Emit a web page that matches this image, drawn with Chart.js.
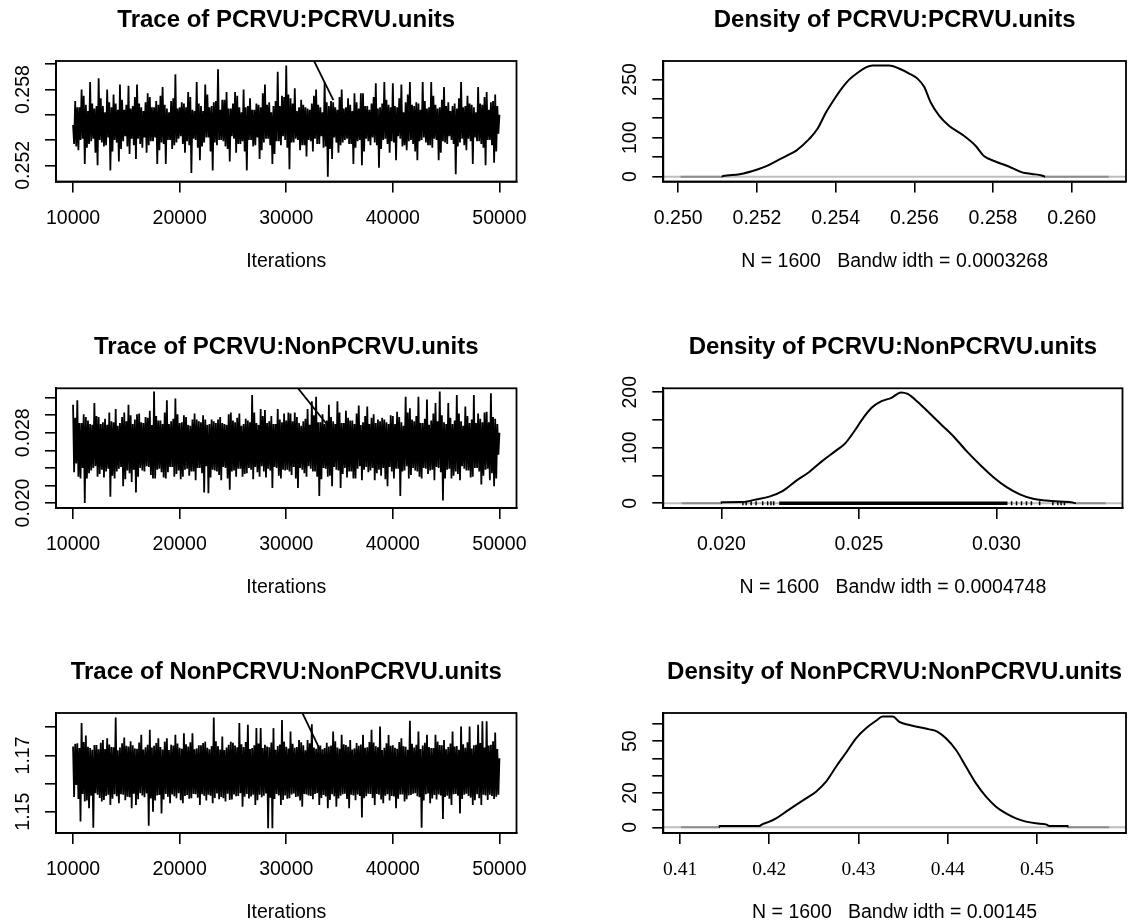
<!DOCTYPE html>
<html>
<head>
<meta charset="utf-8">
<title>MCMC trace and density plots</title>
<script src="https://cdn.jsdelivr.net/npm/chart.js@4.4.1/dist/chart.umd.min.js"></script>
<style>
  html, body { margin: 0; padding: 0; background: #ffffff; }
  #page { position: relative; width: 1128px; height: 922px; overflow: hidden; background: #ffffff; }
</style>
</head>
<body>
<div id="page"></div>
<script>
// ---- Sampled chains, 10000..50000 ----
// Each chain is stored as two lists of turning points: the extremes every 200
// iterations (high at even positions, low at odd) and the opposite turning
// points that fall between them, 100 iterations apart.
const TRACE_START = 10000;
const TRACE_STEP = 100;

const peaksPcPc = [
  0.2552, 0.2535, 0.2566, 0.2540, 0.2580, 0.2521, 0.2568, 0.2537, 0.2586, 0.2541,
  0.2565, 0.2520, 0.2589, 0.2538, 0.2567, 0.2536, 0.2580, 0.2516, 0.2566, 0.2540,
  0.2569, 0.2523, 0.2584, 0.2539, 0.2564, 0.2535, 0.2583, 0.2541, 0.2567, 0.2525,
  0.2584, 0.2537, 0.2566, 0.2542, 0.2570, 0.2536, 0.2574, 0.2539, 0.2566, 0.2521,
  0.2568, 0.2538, 0.2582, 0.2521, 0.2565, 0.2540, 0.2571, 0.2536, 0.2592, 0.2541,
  0.2566, 0.2537, 0.2569, 0.2539, 0.2578, 0.2514, 0.2564, 0.2540, 0.2586, 0.2524,
  0.2567, 0.2538, 0.2584, 0.2542, 0.2566, 0.2516, 0.2570, 0.2536, 0.2596, 0.2540,
  0.2572, 0.2535, 0.2578, 0.2523, 0.2565, 0.2541, 0.2578, 0.2537, 0.2566, 0.2539,
  0.2580, 0.2516, 0.2567, 0.2540, 0.2564, 0.2536, 0.2569, 0.2525, 0.2566, 0.2538,
  0.2584, 0.2541, 0.2570, 0.2521, 0.2567, 0.2539, 0.2594, 0.2536, 0.2575, 0.2540,
  0.2599, 0.2517, 0.2573, 0.2538, 0.2581, 0.2540, 0.2566, 0.2536, 0.2568, 0.2527,
  0.2565, 0.2539, 0.2569, 0.2541, 0.2580, 0.2537, 0.2566, 0.2534, 0.2586, 0.2511,
  0.2567, 0.2525, 0.2570, 0.2538, 0.2564, 0.2536, 0.2580, 0.2540, 0.2566, 0.2537,
  0.2568, 0.2521, 0.2577, 0.2539, 0.2565, 0.2520, 0.2577, 0.2541, 0.2567, 0.2536,
  0.2569, 0.2538, 0.2585, 0.2518, 0.2566, 0.2540, 0.2586, 0.2537, 0.2568, 0.2539,
  0.2585, 0.2524, 0.2566, 0.2541, 0.2584, 0.2536, 0.2570, 0.2539, 0.2586, 0.2537,
  0.2567, 0.2524, 0.2569, 0.2540, 0.2586, 0.2538, 0.2565, 0.2536, 0.2586, 0.2541,
  0.2568, 0.2524, 0.2566, 0.2539, 0.2582, 0.2537, 0.2570, 0.2540, 0.2567, 0.2513,
  0.2565, 0.2538, 0.2586, 0.2536, 0.2567, 0.2541, 0.2569, 0.2521, 0.2566, 0.2539,
  0.2582, 0.2537, 0.2568, 0.2520, 0.2578, 0.2540, 0.2570, 0.2522, 0.2576, 0.2545,
  0.2560
];
const bandPcPc = [
  0.2537, 0.2571, 0.2532, 0.2566, 0.2541, 0.2575, 0.2534, 0.2563, 0.2539, 0.2569,
  0.2530, 0.2567, 0.2540, 0.2573, 0.2535, 0.2562, 0.2542, 0.2570, 0.2531, 0.2576,
  0.2538, 0.2564, 0.2533, 0.2572, 0.2543, 0.2568, 0.2529, 0.2565, 0.2536, 0.2574,
  0.2541, 0.2569, 0.2534, 0.2563, 0.2530, 0.2577, 0.2539, 0.2566, 0.2542, 0.2571,
  0.2532, 0.2575, 0.2537, 0.2568, 0.2540, 0.2562, 0.2533, 0.2573, 0.2538, 0.2565,
  0.2543, 0.2570, 0.2530, 0.2566, 0.2536, 0.2574, 0.2541, 0.2563, 0.2534, 0.2569,
  0.2535, 0.2563, 0.2542, 0.2576, 0.2531, 0.2567, 0.2538, 0.2571, 0.2540, 0.2564,
  0.2539, 0.2572, 0.2533, 0.2565, 0.2543, 0.2569, 0.2530, 0.2575, 0.2537, 0.2562,
  0.2531, 0.2566, 0.2540, 0.2573, 0.2535, 0.2564, 0.2542, 0.2568, 0.2532, 0.2577,
  0.2541, 0.2568, 0.2536, 0.2562, 0.2529, 0.2571, 0.2539, 0.2567, 0.2543, 0.2574,
  0.2534, 0.2576, 0.2538, 0.2569, 0.2541, 0.2563, 0.2532, 0.2572, 0.2536, 0.2566,
  0.2540, 0.2564, 0.2531, 0.2575, 0.2537, 0.2568, 0.2543, 0.2562, 0.2535, 0.2570,
  0.2533, 0.2571, 0.2542, 0.2566, 0.2530, 0.2574, 0.2538, 0.2565, 0.2541, 0.2573,
  0.2537, 0.2563, 0.2534, 0.2570, 0.2540, 0.2577, 0.2531, 0.2567, 0.2539, 0.2564,
  0.2542, 0.2574, 0.2536, 0.2565, 0.2533, 0.2569, 0.2541, 0.2572, 0.2530, 0.2566,
  0.2538, 0.2567, 0.2543, 0.2573, 0.2535, 0.2562, 0.2532, 0.2576, 0.2540, 0.2568,
  0.2531, 0.2570, 0.2539, 0.2564, 0.2542, 0.2571, 0.2536, 0.2566, 0.2534, 0.2575,
  0.2540, 0.2565, 0.2530, 0.2572, 0.2538, 0.2567, 0.2543, 0.2563, 0.2537, 0.2569,
  0.2535, 0.2573, 0.2541, 0.2566, 0.2532, 0.2575, 0.2539, 0.2568, 0.2542, 0.2562,
  0.2539, 0.2569, 0.2534, 0.2574, 0.2540, 0.2564, 0.2536, 0.2571, 0.2531, 0.2567
];

const peaksPcNon = [
  0.0312, 0.0245, 0.0317, 0.0228, 0.0291, 0.0200, 0.0298, 0.0234, 0.0290, 0.0240,
  0.0314, 0.0230, 0.0298, 0.0238, 0.0292, 0.0236, 0.0289, 0.0207, 0.0293, 0.0228,
  0.0307, 0.0239, 0.0291, 0.0219, 0.0303, 0.0237, 0.0312, 0.0224, 0.0290, 0.0212,
  0.0301, 0.0240, 0.0292, 0.0236, 0.0298, 0.0241, 0.0305, 0.0228, 0.0327, 0.0238,
  0.0294, 0.0235, 0.0290, 0.0228, 0.0317, 0.0241, 0.0293, 0.0230, 0.0319, 0.0237,
  0.0291, 0.0230, 0.0300, 0.0239, 0.0289, 0.0236, 0.0295, 0.0226, 0.0295, 0.0240,
  0.0292, 0.0212, 0.0295, 0.0211, 0.0290, 0.0238, 0.0293, 0.0236, 0.0295, 0.0226,
  0.0291, 0.0240, 0.0289, 0.0215, 0.0303, 0.0237, 0.0292, 0.0239, 0.0302, 0.0230,
  0.0290, 0.0234, 0.0294, 0.0238, 0.0323, 0.0241, 0.0291, 0.0230, 0.0307, 0.0236,
  0.0306, 0.0239, 0.0293, 0.0217, 0.0290, 0.0240, 0.0307, 0.0228, 0.0292, 0.0237,
  0.0294, 0.0236, 0.0302, 0.0241, 0.0303, 0.0217, 0.0291, 0.0238, 0.0293, 0.0230,
  0.0307, 0.0239, 0.0316, 0.0236, 0.0321, 0.0208, 0.0292, 0.0240, 0.0290, 0.0230,
  0.0312, 0.0219, 0.0293, 0.0238, 0.0316, 0.0217, 0.0291, 0.0240, 0.0305, 0.0236,
  0.0294, 0.0228, 0.0290, 0.0239, 0.0311, 0.0226, 0.0292, 0.0241, 0.0310, 0.0237,
  0.0297, 0.0226, 0.0291, 0.0238, 0.0293, 0.0240, 0.0295, 0.0219, 0.0290, 0.0236,
  0.0299, 0.0239, 0.0304, 0.0208, 0.0292, 0.0237, 0.0321, 0.0228, 0.0308, 0.0240,
  0.0293, 0.0236, 0.0321, 0.0228, 0.0291, 0.0239, 0.0318, 0.0237, 0.0294, 0.0226,
  0.0314, 0.0240, 0.0327, 0.0203, 0.0292, 0.0238, 0.0314, 0.0228, 0.0290, 0.0236,
  0.0323, 0.0226, 0.0293, 0.0239, 0.0310, 0.0237, 0.0291, 0.0230, 0.0323, 0.0240,
  0.0302, 0.0221, 0.0292, 0.0238, 0.0304, 0.0226, 0.0325, 0.0219, 0.0296, 0.0255,
  0.0280
];
const bandPcNon = [
  0.0235, 0.0297, 0.0230, 0.0291, 0.0240, 0.0301, 0.0228, 0.0294, 0.0237, 0.0289,
  0.0242, 0.0299, 0.0233, 0.0290, 0.0229, 0.0296, 0.0239, 0.0303, 0.0231, 0.0292,
  0.0236, 0.0288, 0.0241, 0.0298, 0.0227, 0.0293, 0.0234, 0.0300, 0.0238, 0.0295,
  0.0230, 0.0302, 0.0237, 0.0291, 0.0242, 0.0297, 0.0232, 0.0289, 0.0228, 0.0299,
  0.0239, 0.0294, 0.0229, 0.0303, 0.0235, 0.0290, 0.0241, 0.0296, 0.0233, 0.0301,
  0.0227, 0.0292, 0.0238, 0.0298, 0.0231, 0.0288, 0.0236, 0.0302, 0.0240, 0.0293,
  0.0234, 0.0300, 0.0242, 0.0289, 0.0229, 0.0295, 0.0237, 0.0291, 0.0232, 0.0298,
  0.0241, 0.0290, 0.0228, 0.0301, 0.0236, 0.0294, 0.0230, 0.0297, 0.0239, 0.0288,
  0.0233, 0.0296, 0.0240, 0.0292, 0.0227, 0.0303, 0.0235, 0.0289, 0.0242, 0.0299,
  0.0229, 0.0291, 0.0237, 0.0299, 0.0241, 0.0290, 0.0231, 0.0295, 0.0238, 0.0302,
  0.0238, 0.0303, 0.0232, 0.0293, 0.0228, 0.0298, 0.0240, 0.0288, 0.0234, 0.0296,
  0.0242, 0.0289, 0.0236, 0.0300, 0.0230, 0.0292, 0.0227, 0.0301, 0.0239, 0.0294,
  0.0231, 0.0298, 0.0241, 0.0290, 0.0237, 0.0303, 0.0233, 0.0291, 0.0229, 0.0297,
  0.0236, 0.0294, 0.0228, 0.0302, 0.0242, 0.0289, 0.0238, 0.0299, 0.0235, 0.0290,
  0.0240, 0.0301, 0.0234, 0.0295, 0.0231, 0.0297, 0.0227, 0.0292, 0.0241, 0.0300,
  0.0228, 0.0290, 0.0239, 0.0298, 0.0236, 0.0288, 0.0242, 0.0303, 0.0232, 0.0295,
  0.0237, 0.0299, 0.0230, 0.0291, 0.0240, 0.0296, 0.0233, 0.0289, 0.0238, 0.0302,
  0.0241, 0.0293, 0.0235, 0.0300, 0.0228, 0.0290, 0.0239, 0.0297, 0.0231, 0.0294,
  0.0233, 0.0302, 0.0242, 0.0288, 0.0237, 0.0299, 0.0229, 0.0295, 0.0240, 0.0291,
  0.0236, 0.0296, 0.0231, 0.0303, 0.0239, 0.0292, 0.0234, 0.0298, 0.0228, 0.0290
];

const peaksNonNon = [
  1.1732, 1.1595, 1.1743, 1.1465, 1.1815, 1.1536, 1.1771, 1.1512, 1.1726, 1.1443,
  1.1737, 1.1560, 1.1722, 1.1536, 1.1755, 1.1556, 1.1761, 1.1524, 1.1730, 1.1562,
  1.1835, 1.1530, 1.1728, 1.1560, 1.1764, 1.1553, 1.1732, 1.1512, 1.1736, 1.1524,
  1.1724, 1.1566, 1.1773, 1.1551, 1.1729, 1.1450, 1.1791, 1.1500, 1.1734, 1.1558,
  1.1761, 1.1494, 1.1721, 1.1563, 1.1761, 1.1530, 1.1738, 1.1555, 1.1773, 1.1566,
  1.1727, 1.1530, 1.1779, 1.1559, 1.1732, 1.1548, 1.1779, 1.1562, 1.1725, 1.1524,
  1.1736, 1.1557, 1.1749, 1.1560, 1.1722, 1.1530, 1.1835, 1.1565, 1.1733, 1.1552,
  1.1767, 1.1536, 1.1728, 1.1542, 1.1749, 1.1561, 1.1735, 1.1556, 1.1815, 1.1518,
  1.1730, 1.1563, 1.1809, 1.1554, 1.1726, 1.1524, 1.1797, 1.1560, 1.1797, 1.1557,
  1.1738, 1.1441, 1.1729, 1.1441, 1.1797, 1.1563, 1.1733, 1.1524, 1.1826, 1.1558,
  1.1731, 1.1548, 1.1785, 1.1565, 1.1727, 1.1554, 1.1755, 1.1518, 1.1736, 1.1561,
  1.1755, 1.1556, 1.1811, 1.1563, 1.1724, 1.1524, 1.1735, 1.1559, 1.1726, 1.1512,
  1.1732, 1.1562, 1.1785, 1.1518, 1.1728, 1.1557, 1.1773, 1.1564, 1.1737, 1.1512,
  1.1755, 1.1558, 1.1725, 1.1561, 1.1734, 1.1479, 1.1773, 1.1555, 1.1729, 1.1563,
  1.1791, 1.1524, 1.1733, 1.1560, 1.1803, 1.1530, 1.1727, 1.1562, 1.1773, 1.1556,
  1.1736, 1.1512, 1.1724, 1.1561, 1.1761, 1.1536, 1.1731, 1.1558, 1.1823, 1.1564,
  1.1728, 1.1555, 1.1785, 1.1443, 1.1735, 1.1562, 1.1773, 1.1530, 1.1726, 1.1559,
  1.1773, 1.1561, 1.1737, 1.1474, 1.1755, 1.1557, 1.1730, 1.1524, 1.1785, 1.1563,
  1.1733, 1.1494, 1.1803, 1.1560, 1.1727, 1.1556, 1.1803, 1.1524, 1.1736, 1.1562,
  1.1809, 1.1524, 1.1821, 1.1558, 1.1821, 1.1560, 1.1738, 1.1545, 1.1781, 1.1560,
  1.1690
];
const bandNonNon = [
  1.1552, 1.1741, 1.1545, 1.1726, 1.1563, 1.1748, 1.1540, 1.1731, 1.1557, 1.1720,
  1.1566, 1.1737, 1.1549, 1.1745, 1.1542, 1.1723, 1.1560, 1.1739, 1.1546, 1.1729,
  1.1555, 1.1718, 1.1562, 1.1743, 1.1541, 1.1734, 1.1551, 1.1750, 1.1564, 1.1725,
  1.1544, 1.1746, 1.1558, 1.1721, 1.1565, 1.1738, 1.1547, 1.1728, 1.1540, 1.1744,
  1.1559, 1.1730, 1.1543, 1.1749, 1.1553, 1.1719, 1.1561, 1.1735, 1.1548, 1.1742,
  1.1541, 1.1724, 1.1556, 1.1740, 1.1546, 1.1747, 1.1563, 1.1722, 1.1550, 1.1736,
  1.1562, 1.1744, 1.1540, 1.1727, 1.1557, 1.1733, 1.1549, 1.1750, 1.1544, 1.1721,
  1.1548, 1.1719, 1.1564, 1.1738, 1.1543, 1.1745, 1.1555, 1.1729, 1.1566, 1.1740,
  1.1553, 1.1748, 1.1547, 1.1723, 1.1560, 1.1736, 1.1541, 1.1742, 1.1551, 1.1726,
  1.1565, 1.1732, 1.1550, 1.1746, 1.1545, 1.1720, 1.1558, 1.1739, 1.1542, 1.1749,
  1.1546, 1.1725, 1.1561, 1.1741, 1.1552, 1.1730, 1.1540, 1.1747, 1.1563, 1.1718,
  1.1558, 1.1743, 1.1544, 1.1728, 1.1566, 1.1737, 1.1549, 1.1722, 1.1554, 1.1745,
  1.1542, 1.1735, 1.1555, 1.1750, 1.1547, 1.1724, 1.1562, 1.1740, 1.1545, 1.1731,
  1.1560, 1.1721, 1.1541, 1.1744, 1.1556, 1.1739, 1.1548, 1.1727, 1.1564, 1.1748,
  1.1549, 1.1746, 1.1563, 1.1729, 1.1543, 1.1719, 1.1557, 1.1743, 1.1540, 1.1734,
  1.1554, 1.1727, 1.1546, 1.1748, 1.1561, 1.1733, 1.1544, 1.1720, 1.1559, 1.1741,
  1.1566, 1.1738, 1.1551, 1.1723, 1.1540, 1.1745, 1.1565, 1.1730, 1.1547, 1.1726,
  1.1543, 1.1749, 1.1558, 1.1736, 1.1552, 1.1722, 1.1546, 1.1742, 1.1562, 1.1732,
  1.1557, 1.1720, 1.1545, 1.1740, 1.1564, 1.1747, 1.1550, 1.1725, 1.1541, 1.1738,
  1.1548, 1.1744, 1.1560, 1.1728, 1.1542, 1.1735, 1.1556, 1.1750, 1.1553, 1.1723
];

// Stray straight segments entering each trace panel from above
const jumpPcPcIter = [32480, 34420];
const jumpPcPcValue = [0.26048, 0.25717];
const jumpPcNonIter = [30980, 33860];
const jumpPcNonValue = [0.03326, 0.02889];
const jumpNonNonIter = [31450, 33170];
const jumpNonNonValue = [1.1856, 1.1720];

// ---- Kernel density estimates ----
const densPcPcX = [0.25006, 0.25110, 0.25114, 0.25156, 0.25203, 0.25224, 0.25249, 0.25274, 0.25300, 0.25333,
  0.25354, 0.25376, 0.25392, 0.25418, 0.25435, 0.25456, 0.25477, 0.25494, 0.25536, 0.25561,
  0.25587, 0.25608, 0.25625, 0.25641, 0.25663, 0.25688, 0.25722, 0.25755, 0.25776, 0.25806,
  0.25840, 0.25874, 0.25899, 0.25924, 0.25933, 0.26094];
const densPcPcY = [0, 0, 1.5, 6, 19, 27, 40, 53, 67, 97,
  123, 166, 192, 230, 250, 267, 281, 286, 286, 278,
  265, 252, 231, 192, 157, 131, 108, 80, 54, 39,
  26, 11, 7, 3, 0, 0];

const densPcNonX = [0.01856, 0.01998, 0.02000, 0.02078, 0.02126, 0.02174, 0.02222, 0.02270, 0.02318, 0.02366,
  0.02414, 0.02450, 0.02486, 0.02510, 0.02546, 0.02582, 0.02618, 0.02653, 0.02677, 0.02713,
  0.02755, 0.02797, 0.02845, 0.02893, 0.02941, 0.02989, 0.03037, 0.03085, 0.03133, 0.03181,
  0.03229, 0.03277, 0.03289, 0.03397];
const densPcNonY = [0, 0, 2, 2.5, 7, 12, 22, 40, 56, 76,
  94, 108, 132, 150, 172, 184, 190, 199.7, 197, 183,
  163, 143, 120, 93, 69, 47, 29, 16, 8, 5,
  3, 1.5, 0, 0];
// Observation rug: isolated draws in the tails, and the span where draws are packed solid
const rugPcNon = [0.02078, 0.02090, 0.02108, 0.02126, 0.02150, 0.02168, 0.02180, 0.02190,
  0.03055, 0.03073, 0.03091, 0.03109, 0.03127, 0.03157, 0.03205, 0.03223, 0.03235, 0.03247];
const rugPcNonSolid = [0.02210, 0.03040];

const densNonNonX = [0.41011, 0.41437, 0.41441, 0.41889, 0.41926, 0.42001, 0.42076, 0.42188, 0.42300, 0.42412,
  0.42524, 0.42636, 0.42748, 0.42860, 0.42972, 0.43084, 0.43196, 0.43271, 0.43383, 0.43458,
  0.43570, 0.43682, 0.43794, 0.43887, 0.43980, 0.44093, 0.44205, 0.44317, 0.44429, 0.44541,
  0.44653, 0.44765, 0.44877, 0.44989, 0.45101, 0.45138, 0.45344, 0.45355, 0.45810];
const densNonNonY = [0, 0, 0.8, 0.8, 1.9, 3.3, 5.2, 9.1, 13, 16.8,
  20.7, 26.5, 35.2, 43.3, 51.7, 57.5, 61.9, 64.3, 64.3, 61.3,
  59.4, 58.1, 56.9, 55.5, 51.7, 44.9, 35.2, 25.5, 17.8, 12,
  8.1, 5.2, 3.3, 2.3, 1.7, 0.8, 0.8, 0, 0];

// ---- Axis ticks and labels ----
const iterTicks = [10000, 20000, 30000, 40000, 50000];
const iterTickLabels = ['10000', '20000', '30000', '40000', '50000'];

const yTicksPcPc = [0.252, 0.254, 0.256, 0.258, 0.260];
const yLabelValuesPcPc = [0.252, 0.258];
const yLabelTextPcPc = ['0.252', '0.258'];

const yTicksPcNon = [0.020, 0.022, 0.024, 0.026, 0.028, 0.030, 0.032];
const yLabelValuesPcNon = [0.020, 0.028];
const yLabelTextPcNon = ['0.020', '0.028'];

const yTicksNonNon = [1.15, 1.16, 1.17, 1.18];
const yLabelValuesNonNon = [1.15, 1.17];
const yLabelTextNonNon = ['1.15', '1.17'];

const xTicksDensPcPc = [0.250, 0.252, 0.254, 0.256, 0.258, 0.260];
const xLabelsDensPcPc = ['0.250', '0.252', '0.254', '0.256', '0.258', '0.260'];
const yTicksDensPcPc = [0, 50, 100, 150, 200, 250];
const yLabelValuesDensPcPc = [0, 100, 250];
const yLabelTextDensPcPc = ['0', '100', '250'];

const xTicksDensPcNon = [0.020, 0.025, 0.030];
const xLabelsDensPcNon = ['0.020', '0.025', '0.030'];
const yTicksDensPcNon = [0, 50, 100, 150, 200];
const yLabelValuesDensPcNon = [0, 100, 200];
const yLabelTextDensPcNon = ['0', '100', '200'];

const xTicksDensNonNon = [0.41, 0.42, 0.43, 0.44, 0.45];
const xLabelsDensNonNon = ['0.41', '0.42', '0.43', '0.44', '0.45'];
const yTicksDensNonNon = [0, 10, 20, 30, 40, 50, 60];
const yLabelValuesDensNonNon = [0, 20, 50];
const yLabelTextDensNonNon = ['0', '20', '50'];

// ---- Page layout (pixels) ----
const LAYOUT = {
  cols: [
    { left: 0,   width: 564, boxLeft: 56,    boxRight: 516.5 },
    { left: 564, width: 564, boxLeft: 663.3, boxRight: 1126 }
  ],
  rows: [
    { top: 0,   height: 300, boxTop: 61,    boxBottom: 181.5 },
    { top: 300, height: 314, boxTop: 388.3, boxBottom: 508 },
    { top: 614, height: 308, boxTop: 713,   boxBottom: 833 }
  ]
};

const FONT_SANS = '"Liberation Sans", Arial, Helvetica, sans-serif';
const FONT_SERIF = '"Liberation Serif", "Times New Roman", Times, serif';
const INK = '#000000';

// Put the two turning-point lists back into time order: high, low, high, low ...
function chainFromTurns(peaks, band) {
  const out = [];
  for (let k = 0; k < band.length; k++) {
    if (k % 2 === 0) out.push(peaks[k], band[k]);
    else out.push(band[k], peaks[k]);
  }
  out.push(peaks[peaks.length - 1]);
  return out;
}

// ---- Dataset builders ----
function traceSet(values) {
  return {
    data: values.map((v, i) => ({ x: TRACE_START + TRACE_STEP * i, y: v })),
    borderColor: INK, borderWidth: 1.8, pointRadius: 0, tension: 0, fill: false, clip: 0
  };
}
function jumpSet(iters, values) {
  return {
    data: iters.map((x, i) => ({ x: x, y: values[i] })),
    borderColor: INK, borderWidth: 1.8, pointRadius: 0, tension: 0, fill: false, clip: 0
  };
}
function densitySet(xs, ys) {
  return {
    data: xs.map((x, i) => ({ x: x, y: ys[i] })),
    borderColor: INK, borderWidth: 2, pointRadius: 0, fill: false, clip: 0,
    cubicInterpolationMode: 'monotone',
    segment: {
      borderColor: c => (c.p0.parsed.y === 0 && c.p1.parsed.y === 0) ? '#8c8c8c' : undefined
    }
  };
}
function rugSet(xs) {
  return {
    data: xs.map(x => ({ x: x, y: 0 })),
    showLine: false, pointStyle: 'line', pointRotation: 90, pointRadius: 2,
    pointBorderColor: INK, pointBorderWidth: 1.5, borderColor: INK, clip: 0
  };
}
function rugSolidSet(span) {
  return {
    data: span.map(x => ({ x: x, y: 0 })),
    borderColor: INK, borderWidth: 3.5, pointRadius: 0, fill: false, clip: 0
  };
}

// Box, titles, zero reference line and rotated y tick labels
function decor(p) {
  return {
    id: 'panelDecor',
    beforeDatasetsDraw(chart) {
      if (!p.zeroLine) return;
      const { ctx, chartArea: a, scales } = chart;
      const py = scales.y.getPixelForValue(0);
      ctx.save();
      ctx.strokeStyle = '#bebebe';
      ctx.lineWidth = 2;
      ctx.beginPath();
      ctx.moveTo(a.left, py);
      ctx.lineTo(a.right, py);
      ctx.stroke();
      ctx.restore();
    },
    afterDraw(chart) {
      const { ctx, chartArea: a, scales } = chart;
      ctx.save();
      ctx.strokeStyle = INK;
      ctx.lineWidth = 1.8;
      ctx.strokeRect(a.left, a.top, a.right - a.left, a.bottom - a.top);
      ctx.fillStyle = INK;
      ctx.textAlign = 'center';
      ctx.textBaseline = 'middle';
      const cx = (a.left + a.right) / 2;
      ctx.font = 'bold 24px ' + FONT_SANS;
      ctx.fillText(p.title, cx, a.top - 41);
      ctx.font = '19.5px ' + FONT_SANS;
      ctx.fillText(p.subtitle, cx, a.bottom + 80);
      p.yLabelValues.forEach((v, i) => {
        ctx.save();
        ctx.translate(a.left - 32.5, scales.y.getPixelForValue(v));
        ctx.rotate(-Math.PI / 2);
        ctx.fillText(p.yLabelText[i], 0, 0);
        ctx.restore();
      });
      ctx.restore();
    }
  };
}

const axisGrid = { display: true, drawOnChartArea: false, drawTicks: true, tickLength: 11, color: INK, lineWidth: 1.6 };
const axisBorder = { display: true, color: INK, width: 1.8 };

function buildPanel(p) {
  const col = LAYOUT.cols[p.col];
  const row = LAYOUT.rows[p.row];
  const cv = document.createElement('canvas');
  cv.width = col.width;
  cv.height = row.height;
  Object.assign(cv.style, {
    position: 'absolute', left: col.left + 'px', top: row.top + 'px',
    width: col.width + 'px', height: row.height + 'px'
  });
  document.getElementById('page').appendChild(cv);

  const yAxisWidth = col.boxLeft - col.left;
  const xAxisHeight = row.top + row.height - row.boxBottom;

  new Chart(cv.getContext('2d'), {
    type: 'line',
    data: { datasets: p.datasets },
    options: {
      responsive: false,
      maintainAspectRatio: false,
      animation: false,
      devicePixelRatio: 1,
      events: [],
      layout: {
        padding: { left: 0, top: row.boxTop - row.top, right: col.left + col.width - col.boxRight, bottom: 0 }
      },
      plugins: { legend: { display: false }, tooltip: { enabled: false }, title: { display: false } },
      scales: {
        x: {
          type: 'linear', position: 'bottom', min: p.xRange[0], max: p.xRange[1],
          afterBuildTicks: s => { s.ticks = p.xTicks.map(v => ({ value: v })); },
          afterFit: s => { s.height = xAxisHeight; },
          grid: axisGrid,
          border: axisBorder,
          ticks: {
            autoSkip: false, maxRotation: 0, minRotation: 0, padding: 14.3, color: INK,
            font: { family: p.serifX ? FONT_SERIF : FONT_SANS, size: 19.5 },
            callback: (v, i) => p.xLabels[i]
          }
        },
        y: {
          type: 'linear', position: 'left', min: p.yRange[0], max: p.yRange[1],
          afterBuildTicks: s => { s.ticks = p.yTicks.map(v => ({ value: v })); },
          afterFit: s => { s.width = yAxisWidth; },
          grid: axisGrid,
          border: axisBorder,
          ticks: { display: false }
        }
      }
    },
    plugins: [decor(p)]
  });
}

const panels = [
  {
    col: 0, row: 0, title: 'Trace of PCRVU:PCRVU.units', subtitle: 'Iterations',
    xRange: [8400, 51600], xTicks: iterTicks, xLabels: iterTickLabels,
    yRange: [0.25072, 0.26026], yTicks: yTicksPcPc, yLabelValues: yLabelValuesPcPc, yLabelText: yLabelTextPcPc,
    datasets: [traceSet(chainFromTurns(peaksPcPc, bandPcPc)), jumpSet(jumpPcPcIter, jumpPcPcValue)]
  },
  {
    col: 1, row: 0, title: 'Density of PCRVU:PCRVU.units', subtitle: 'N = 1600   Bandw idth = 0.0003268',
    zeroLine: true,
    xRange: [0.24962, 0.26138], xTicks: xTicksDensPcPc, xLabels: xLabelsDensPcPc,
    yRange: [-12.5, 297.3], yTicks: yTicksDensPcPc, yLabelValues: yLabelValuesDensPcPc, yLabelText: yLabelTextDensPcPc,
    datasets: [densitySet(densPcPcX, densPcPcY)]
  },
  {
    col: 0, row: 1, title: 'Trace of PCRVU:NonPCRVU.units', subtitle: 'Iterations',
    xRange: [8400, 51600], xTicks: iterTicks, xLabels: iterTickLabels,
    yRange: [0.01943, 0.03307], yTicks: yTicksPcNon, yLabelValues: yLabelValuesPcNon, yLabelText: yLabelTextPcNon,
    datasets: [traceSet(chainFromTurns(peaksPcNon, bandPcNon)), jumpSet(jumpPcNonIter, jumpPcNonValue)]
  },
  {
    col: 1, row: 1, title: 'Density of PCRVU:NonPCRVU.units', subtitle: 'N = 1600   Bandw idth = 0.0004748',
    zeroLine: true,
    xRange: [0.017886, 0.034582], xTicks: xTicksDensPcNon, xLabels: xLabelsDensPcNon,
    yRange: [-8.5, 207.2], yTicks: yTicksDensPcNon, yLabelValues: yLabelValuesDensPcNon, yLabelText: yLabelTextDensPcNon,
    datasets: [rugSolidSet(rugPcNonSolid), rugSet(rugPcNon), densitySet(densPcNonX, densPcNonY)]
  },
  {
    col: 0, row: 2, title: 'Trace of NonPCRVU:NonPCRVU.units', subtitle: 'Iterations',
    xRange: [8400, 51600], xTicks: iterTicks, xLabels: iterTickLabels,
    yRange: [1.14243, 1.18508], yTicks: yTicksNonNon, yLabelValues: yLabelValuesNonNon, yLabelText: yLabelTextNonNon,
    datasets: [traceSet(chainFromTurns(peaksNonNon, bandNonNon)), jumpSet(jumpNonNonIter, jumpNonNonValue)]
  },
  {
    col: 1, row: 2, title: 'Density of NonPCRVU:NonPCRVU.units', subtitle: 'N = 1600   Bandw idth = 0.00145',
    zeroLine: true, serifX: true,
    xRange: [0.40812, 0.45998], xTicks: xTicksDensNonNon, xLabels: xLabelsDensNonNon,
    yRange: [-3.3, 66.4], yTicks: yTicksDensNonNon, yLabelValues: yLabelValuesDensNonNon, yLabelText: yLabelTextDensNonNon,
    datasets: [densitySet(densNonNonX, densNonNonY)]
  }
];

panels.forEach(buildPanel);
</script>
</body>
</html>
